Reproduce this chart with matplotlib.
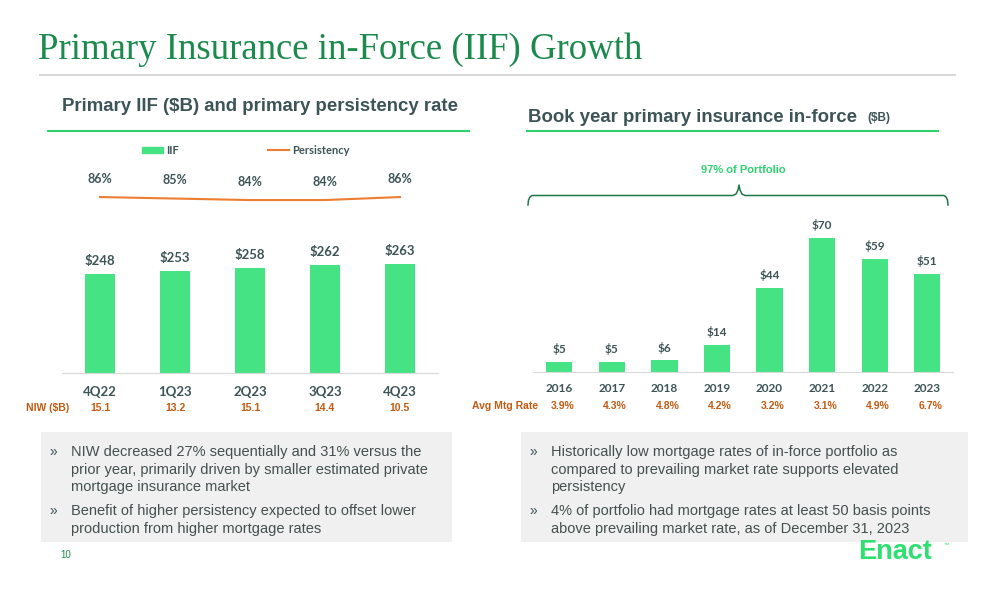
import matplotlib
matplotlib.use("Agg")
import matplotlib.pyplot as plt
from matplotlib.lines import Line2D
from matplotlib.patches import Rectangle, Patch
from matplotlib.transforms import blended_transform_factory

# ---- data ----
quarters = ["4Q22", "1Q23", "2Q23", "3Q23", "4Q23"]
iif = [248, 253, 258, 262, 263]
persistency = [86, 85, 84, 84, 86]
niw = [15.1, 13.2, 15.1, 14.4, 10.5]

book_years = ["2016", "2017", "2018", "2019", "2020", "2021", "2022", "2023"]
book_iif = [5, 5, 6, 14, 44, 70, 59, 51]
avg_rate = [3.9, 4.3, 4.8, 4.2, 3.2, 3.1, 4.9, 6.7]

left_bullets = [
    ["NIW decreased 27% sequentially and 31% versus the",
     "prior year, primarily driven by smaller estimated private",
     "mortgage insurance market"],
    ["Benefit of higher persistency expected to offset lower",
     "production from higher mortgage rates"],
]
right_bullets = [
    ["Historically low mortgage rates of in-force portfolio as",
     "compared to prevailing market rate supports elevated",
     "persistency"],
    ["4% of portfolio had mortgage rates at least 50 basis points",
     "above prevailing market rate, as of December 31, 2023"],
]

# ---- styles ----
W, H = 1008, 612
GREEN = "#46e384"
BRIGHT = "#2fd16f"
ORANGE = "#ed7d31"
RUST = "#c55a11"
SLATE = "#3d5457"
NUM_FONT = ["Lato", "DejaVu Sans"]
SANS = ["Liberation Sans", "DejaVu Sans"]


def fx(px):
    return px / W


def fy(py):
    return 1 - py / H


fig = plt.figure(figsize=(W / 100, H / 100), dpi=100)

# title and rules
fig.text(fx(38), fy(50), "Primary Insurance in-Force (IIF) Growth", fontsize=26.5,
         family=["Liberation Serif", "DejaVu Serif"], color="#1b8a4c", va="center")
fig.add_artist(Line2D([fx(40), fx(955)], [fy(75), fy(75)], color="#d4d4d4", lw=1.3))

fig.text(fx(62), fy(106), "Primary IIF ($B) and primary persistency rate", fontsize=13.4,
         weight="bold", family=SANS, color=SLATE, va="center")
fig.add_artist(Line2D([fx(48), fx(469)], [fy(131), fy(131)], color=BRIGHT, lw=1.5))

fig.text(fx(528), fy(117), "Book year primary insurance in-force", fontsize=13.4,
         weight="bold", family=SANS, color=SLATE, va="center")
fig.text(fx(867), fy(118), "($B)", fontsize=8.5, weight="bold", family=SANS, color=SLATE, va="center")
fig.add_artist(Line2D([fx(527), fx(938)], [fy(131), fy(131)], color=BRIGHT, lw=1.5))

# ---- left chart ----
ax = fig.add_axes([fx(62), fy(373), fx(376), 213 / H])
x = list(range(len(quarters)))
ax.bar(x, iif, width=0.4, color=GREEN, zorder=2)
ax.set_xlim(-0.507, 4.507)
ax.set_ylim(100, 419)
for xi, v in zip(x, iif):
    ax.annotate(f"${v}", (xi, v), xytext=(0, 5), textcoords="offset points", ha="center",
                va="bottom", fontsize=9.5, weight="bold", family=NUM_FONT, color=SLATE)
ax.set_xticks(x)
ax.set_xticklabels(quarters, fontsize=9.5, weight="bold", family=NUM_FONT, color=SLATE)
ax.tick_params(axis="x", length=0, pad=9)
ax.set_yticks([])
for s in ["top", "right", "left"]:
    ax.spines[s].set_visible(False)
ax.spines["bottom"].set_color("#d9d9d9")

ax2 = ax.twinx()
ax2.set_ylim(-31.3, 110.7)
ax2.plot(x, persistency, color=ORANGE, lw=1.5)
for xi, v in zip(x, persistency):
    ax2.annotate(f"{v}%", (xi, v), xytext=(0, 9), textcoords="offset points", ha="center",
                 va="bottom", fontsize=9, weight="bold", family=NUM_FONT, color=SLATE)
ax2.axis("off")

leg = fig.legend([Patch(color=GREEN), Line2D([], [], color=ORANGE, lw=1.5)], ["IIF", "Persistency"],
                 loc="center", bbox_to_anchor=(fx(246), fy(150)), ncol=2, frameon=False,
                 handlelength=1.9, handleheight=0.45, columnspacing=8, handletextpad=0.3,
                 prop={"size": 8, "weight": "bold", "family": NUM_FONT})
for txt in leg.get_texts():
    txt.set_color(SLATE)

fig.text(fx(48), fy(408), "NIW ($B)", fontsize=7.5, weight="bold", family=SANS, color=RUST,
         ha="center", va="center")
atr = blended_transform_factory(ax.transData, fig.transFigure)
for xi, v in zip(x, niw):
    ax.text(xi, fy(408), f"{v:.1f}", transform=atr, ha="center", va="center",
            fontsize=7.5, weight="bold", family=SANS, color=RUST)

# ---- right chart ----
bx = fig.add_axes([fx(533), fy(372), fx(420), 157 / H])
xb = list(range(len(book_years)))
bx.bar(xb, book_iif, width=0.5, color=GREEN, zorder=2)
bx.set_xlim(-0.5, 7.49)
bx.set_ylim(0, 81.8)
for xi, v in zip(xb, book_iif):
    bx.annotate(f"${v}", (xi, v), xytext=(0, 5), textcoords="offset points", ha="center",
                va="bottom", fontsize=8.5, weight="bold", family=NUM_FONT, color=SLATE)
bx.set_xticks(xb)
bx.set_xticklabels(book_years, fontsize=8.5, weight="bold", family=NUM_FONT, color=SLATE)
bx.tick_params(axis="x", length=0, pad=8)
bx.set_yticks([])
for s in ["top", "right", "left"]:
    bx.spines[s].set_visible(False)
bx.spines["bottom"].set_color("#d9d9d9")

fig.text(fx(505), fy(406), "Avg Mtg Rate", fontsize=7.5, weight="bold", family=SANS, color=RUST,
         ha="center", va="center")
btr = blended_transform_factory(bx.transData, fig.transFigure)
for xi, v in zip(xb, avg_rate):
    bx.text(xi + 0.06, fy(406), f"{v:.1f}%", transform=btr, ha="center", va="center",
            fontsize=7.5, weight="bold", family=SANS, color=RUST)

# brace and annotation
fig.text(fx(743), fy(170), "97% of Portfolio", fontsize=8, weight="bold", family=SANS,
         color=BRIGHT, ha="center", va="center")
brace_x = [528, 528.5, 530, 532, 733, 736, 738, 739, 740, 742, 745, 944, 946, 947.5, 948]
brace_y = [205, 200, 197, 195.5, 195.5, 194, 190, 185, 190, 194, 195.5, 195.5, 197, 200, 205]
fig.add_artist(Line2D([fx(v) for v in brace_x], [fy(v) for v in brace_y], color="#1e7a45", lw=1.1))

# ---- text boxes ----
for x0, x1 in [(41, 452), (521, 968)]:
    fig.add_artist(Rectangle((fx(x0), fy(542)), fx(x1 - x0), (542 - 432) / H,
                             facecolor="#f0f0f0", edgecolor="none", zorder=0))


def bullets(groups, xb_, xt, ys):
    for lines, ystart in zip(groups, ys):
        fig.text(fx(xb_), fy(ystart), "»", fontsize=10, family=SANS, color=SLATE, va="center")
        for i, ln in enumerate(lines):
            fig.text(fx(xt), fy(ystart + i * 17.7), ln, fontsize=10.5, family=SANS,
                     color="#44504f", va="center")


bullets(left_bullets, 49, 71, [452, 511])
bullets(right_bullets, 529, 551, [452, 511])

fig.text(fx(66), fy(555), "10", fontsize=7, family=SANS, color="#1b8a4c", ha="center", va="center")
fig.text(fx(858), fy(552), "Enact", fontsize=19.5, weight="bold", family=SANS, color="#2ee06f",
         va="center")
fig.text(fx(944), fy(545), "™", fontsize=4, family=SANS, color="#2ee06f", va="center")

fig.savefig("out.png", dpi=100)
